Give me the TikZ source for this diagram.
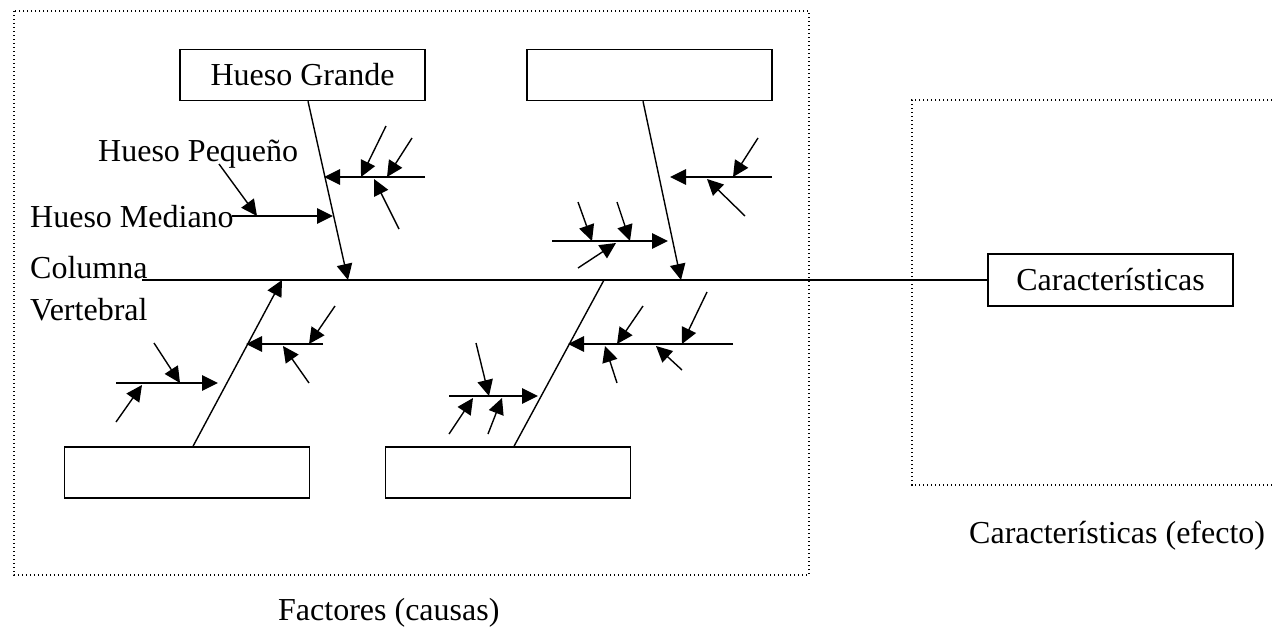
\documentclass[tikz,border=0pt]{standalone}
\usepackage{fontspec}
\setmainfont{Liberation Serif}
\usetikzlibrary{positioning,arrows.meta}

\begin{document}
\begin{tikzpicture}[x=1pt,y=-1pt,
		bonebox/.style={rectangle,draw=black,line width=1.4pt,minimum width=245pt,minimum height=51pt,inner sep=0pt,font=\fontsize{32}{38}\selectfont},
		lbl/.style={inner sep=0pt,anchor=base west,font=\fontsize{32}{38}\selectfont},
		bone/.style={line width=1.4pt},
		arr/.style={line width=1.4pt,-{Triangle[length=16pt,width=15.5pt]}},
		frame/.style={line width=1.3pt,dash pattern=on 1.4pt off 2.6pt}]
		\useasboundingbox (0,0) rectangle (1272,627);
		% frames
		\draw[frame] (14,11) rectangle (809,575);
		\draw[frame] (1272,100) -- (912,100) -- (912,485) -- (1272,485);
		% boxes
		\node[bonebox] (grande) at (302.5,75) {Hueso Grande};
		\node[bonebox] (topbox) at (649.5,75) {};
		\node[bonebox] (lowleft) at (187,472.5) {};
		\node[bonebox] (lowmid) at (508,472.5) {};
		\node[bonebox,minimum height=52pt] (caract) at (1110.5,280) {Características};
		% texts
		\node[lbl] (pequeno) at (98,161) {Hueso Pequeño};
		\node[lbl] (mediano) at (30,227) {Hueso Mediano};
		\node[lbl] (columna) at (30,278) {Columna};
		\node[lbl] (vertebral) at (30,320) {Vertebral};
		\node[lbl] (causas) at (278,620) {Factores (causas)};
		\node[lbl] (efecto) at (969,543) {Características (efecto)};
		% spine
		\coordinate (spine) at (142,280);
		\draw[bone] (spine) -- (caract.west);
		% big bones
		\coordinate (t1) at (348,280);
		\coordinate (t2) at (681,280);
		\coordinate (t3) at (282,280);
		\coordinate (t4) at (604,280);
		\draw[arr] ([xshift=5.5pt]grande.south) -- (t1);
		\draw[arr] ([xshift=-6.5pt]topbox.south) -- (t2);
		\draw[arr] ([xshift=6pt]lowleft.north) -- (t3);
		\draw[bone] ([xshift=6pt]lowmid.north) -- (t4);
		% small bones
		\foreach \nm/\xa/\ya/\xb/\yb in {
			a1/425/177/324/177, a2/386/126/361/177, a3/412/138/387/177,
			a4/399/229/374/179, a5/232/216/333/216, a6/219/164/257/216,
			b1/772/177/670/177, b2/758/138/733/177, b3/745/216/707/179,
			b4/552/241/668/241, b5/578/202/592/241, b6/617/202/630/241,
			b7/578/268/616/243,
			c1/323/344/246/344, c2/335/306/309/344, c3/309/383/283/346,
			c4/116/383/218/383, c5/154/343/180/383, c6/116/422/142/385,
			d1/733/344/568/344, d2/643/306/617/344, d3/707/292/682/344,
			d4/617/383/605/346, d5/682/370/656/346, d6/449/396/538/396,
			d7/476/343/489/396, d8/449/434/473/398, d9/488/434/502/398}
		{
			\coordinate (\nm-s) at (\xa,\ya);
			\coordinate (\nm-e) at (\xb,\yb);
			\draw[arr] (\nm-s) -- (\nm-e);
		}
	\end{tikzpicture}
\end{document}
